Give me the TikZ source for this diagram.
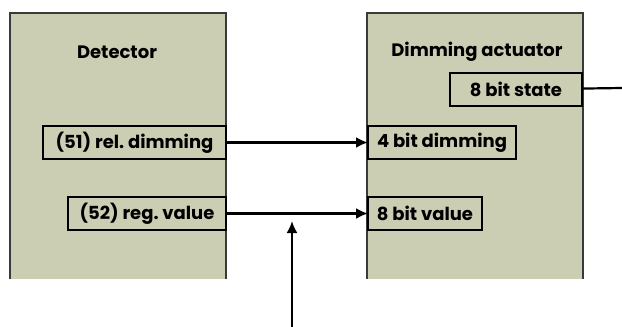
\documentclass[tikz,border=0pt]{standalone}
\usepackage{fontspec}
\setmainfont{Poppins}
\usepackage{tikz}
\usetikzlibrary{arrows,arrows.meta,backgrounds,calc}
\definecolor{devfill}{HTML}{CCCEB4}
\definecolor{devline}{HTML}{3A3A3A}
\tikzset{
  device/.style={fill=devfill, minimum width=216pt, minimum height=266pt, inner sep=0pt, outer sep=0pt},
  objbox/.style={draw=black, line width=2.4pt, fill=devfill, minimum height=33pt, inner sep=0pt, outer sep=0pt, font=\fontsize{18}{20}\selectfont\bfseries},
  title/.style={font=\fontsize{18}{20}\selectfont\bfseries},
  wire/.style={line width=2.2pt, -{Latex[length=12pt,width=11pt]}}
}
\begin{document}
\begin{tikzpicture}[x=1pt,y=-1pt]
\useasboundingbox (0,0) rectangle (622,327);
% devices
\node[device] (det) at (118,146) {};
\node[device] (act) at (475,146) {};
\draw[devline, line width=1.5pt] (det.south west) -- (det.north west) -- (det.north east) -- (det.south east);
\draw[devline, line width=1.5pt] (act.south west) -- (act.north west) -- (act.north east) -- (act.south east);
\node[title] (dettitle) at (117,52) {Detector};
\node[title] (acttitle) at (477,52) {Dimming actuator};
% objects
\node[objbox, minimum width=183pt] (reldim) at (134.5,142.5) {(51) rel.\ dimming};
\node[objbox, minimum width=158pt] (regval) at (147,213.5) {(52) reg.\ value};
\node[objbox, minimum width=132pt] (state) at (516,89.5) {8 bit state};
\node[objbox, minimum width=148pt] (dim4) at (442,142.5) {4 bit dimming};
\node[objbox, minimum width=114pt] (val8) at (425,213.5) {8 bit value};
% links
\coordinate (stateout) at (622,88);
\coordinate (extin) at (292,327);
\coordinate (exttip) at (292,221);
\draw[wire] (reldim) -- (dim4);
\draw[wire] (regval) -- (val8);
\draw[line width=2.2pt] (state) -- (stateout);
\draw[wire] (extin) -- (exttip);
\end{tikzpicture}
\end{document}
